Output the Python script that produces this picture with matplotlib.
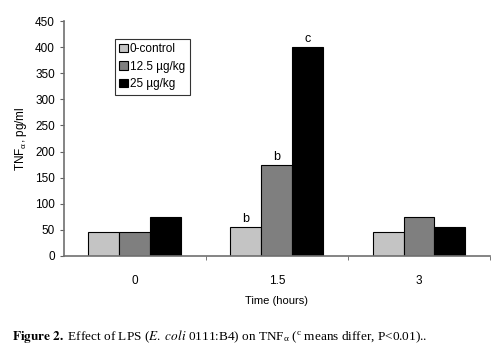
import matplotlib.pyplot as plt
import numpy as np

plt.rcParams['font.family'] = ['Liberation Sans', 'DejaVu Sans']
plt.rcParams['mathtext.fontset'] = 'stix'
plt.rcParams['mathtext.default'] = 'regular'

times = ['0', '1.5', '3']
series = ['0-control', '12.5 µg/kg', '25 µg/kg']
control = [45, 55, 45]
dose_low = [45, 175, 75]
dose_high = [75, 400, 55]
letters_ctrl = ['', 'b', '']
letters_low = ['', 'b', '']
letters_high = ['', 'c', '']
colors = ['#c4c4c4', '#7f7f7f', '#000000']

fig = plt.figure(figsize=(4.99, 3.56), dpi=100)
ax = fig.add_axes([0.128, 0.281, 0.854, 0.66])

x = np.arange(len(times))
w = 0.218
vals = [control, dose_low, dose_high]
labs = [letters_ctrl, letters_low, letters_high]
for i, (v, c, name) in enumerate(zip(vals, colors, series)):
    bars = ax.bar(x + (i - 1) * w, v, w, color=c, edgecolor='black', linewidth=0.8, label=name)
    for b, t in zip(bars, labs[i]):
        if t:
            ax.text(b.get_x() + b.get_width() / 2, b.get_height() + 4, t,
                    ha='center', va='bottom', fontsize=9)

ax.set_xlim(-0.5, 2.5)
ax.set_ylim(0, 450)
ax.set_yticks(range(0, 451, 50))
ax.set_xticks(x)
ax.set_xticklabels(times)
ax.set_xticks([0.5, 1.5, 2.5], minor=True)
ax.tick_params(axis='x', which='major', length=0, pad=14, labelsize=8.5)
ax.tick_params(axis='x', which='minor', length=3, color='#606060')
ax.tick_params(axis='y', length=3, color='#606060', labelsize=8.5)
for s in ['top', 'right']:
    ax.spines[s].set_visible(False)
for s in ['left', 'bottom']:
    ax.spines[s].set_color('#707070')
    ax.spines[s].set_linewidth(1.2)

ax.set_xlabel('Time (hours)', fontsize=8, labelpad=6)
ax.set_ylabel(r'TNF$_{\alpha}$, pg/ml', fontsize=8.5, labelpad=4)

leg = ax.legend(loc='upper left', bbox_to_anchor=(0.105, 0.95), fontsize=8.5,
                frameon=True, fancybox=False, edgecolor='black', handlelength=0.7,
                handleheight=0.7, handletextpad=0.2, borderpad=0.4, labelspacing=0.45)
leg.get_frame().set_linewidth(0.8)

fig.text(0.024, 0.055,
         r'$\mathbf{Figure\ 2.}$ Effect of LPS ($\mathit{E.\ coli}$ 0111:B4) on TNF$_{\alpha}$ ($^{c}$ means differ, P<0.01)..',
         family='Liberation Serif', fontsize=9.5, ha='left', va='center')

fig.savefig('out.png', dpi=100)
